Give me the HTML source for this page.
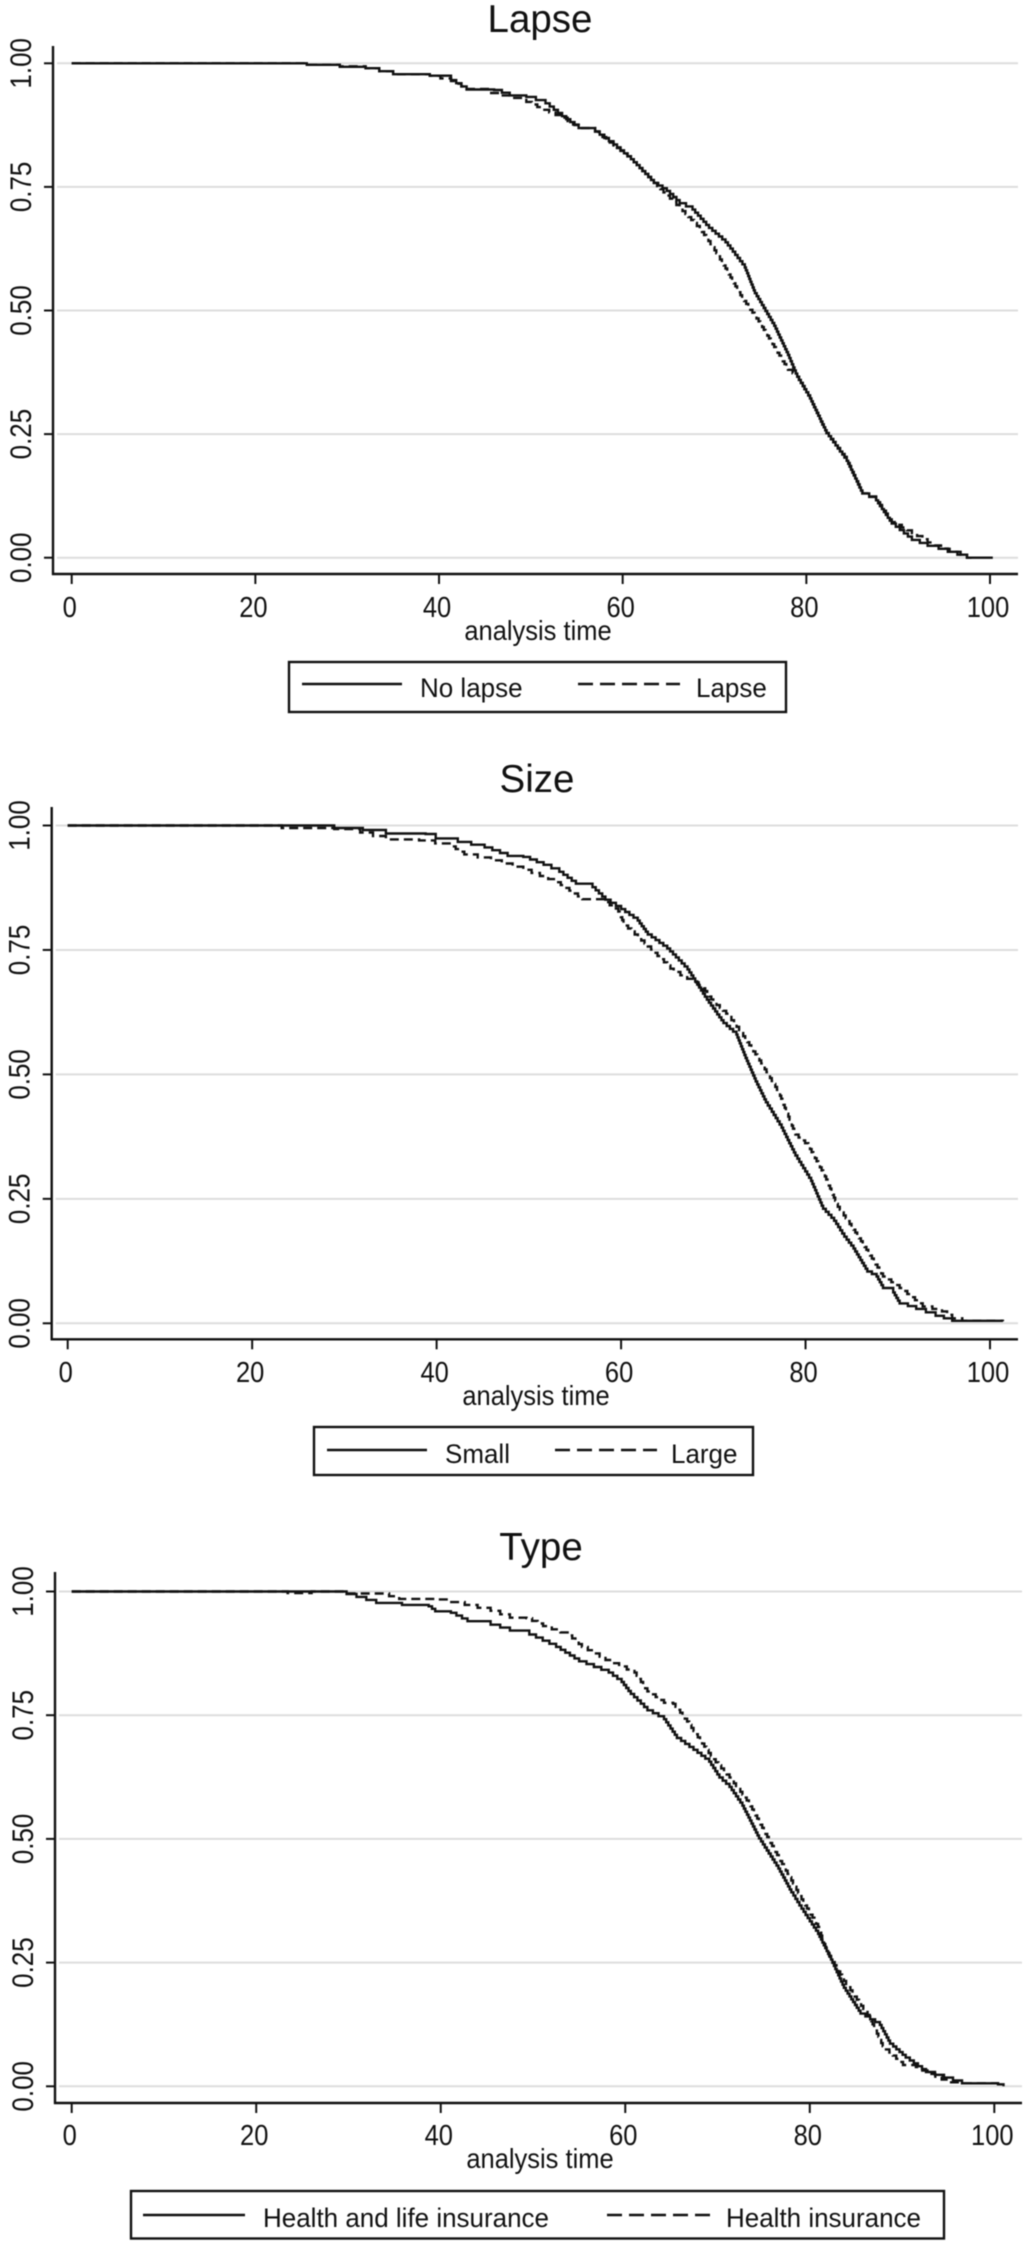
<!DOCTYPE html>
<html lang="en">
<head>
<meta charset="utf-8">
<title>Survival curves by lapse, size and type</title>
<style>
html,body{margin:0;padding:0;background:#fff;}
body{width:1026px;height:2244px;overflow:hidden;}
svg{display:block;filter:blur(0.45px);}
text{font-family:"Liberation Sans",Arial,sans-serif;fill:#111;}
</style>
</head>
<body>
<svg id="chart" xmlns="http://www.w3.org/2000/svg" width="1026" height="2244" viewBox="0 0 1026 2244"></svg>
<script>
const xTickValues = [0, 20, 40, 60, 80, 100];
const yTickValues = [0, 0.25, 0.5, 0.75, 1];
const yTickLabels = ["0.00", "0.25", "0.50", "0.75", "1.00"];
const xAxisLabel = "analysis time";

const lapseTitle = "Lapse";
const lapseNames = ["No lapse", "Lapse"];
const noLapseTimes = [0,25.3,25.6,29.2,32,35,39,41.3,43,46,47.7,49.5,51.6,53.4,55.2,57,59,60.9,63.4,64.8,66.2,67.6,69.4,71.2,73.3,74.4,76.5,78,79,80.4,82.2,84.4,86.1,87.6,89.3,91.5,93.2,96.8,97.5,100.3];
const noLapseValues = [1,1,0.997,0.993,0.99,0.978,0.975,0.966,0.947,0.946,0.935,0.932,0.919,0.893,0.869,0.862,0.836,0.806,0.758,0.742,0.717,0.704,0.667,0.638,0.587,0.535,0.469,0.41,0.366,0.322,0.252,0.196,0.13,0.116,0.069,0.036,0.024,0.006,0,0];
const lapseTimes = [0,25.3,25.6,29.2,32,35,39,41.3,43,45.5,47.7,49.5,51.3,53.4,55.2,57,59,60.9,63.4,66.2,68.4,69.8,71.2,73,74.8,76.5,78,79,80.4,82.2,84.4,86.1,87.6,89.3,91.5,93.2,95.4,97.5,98];
const lapseValues = [1,1,0.997,0.994,0.99,0.978,0.975,0.964,0.948,0.94,0.93,0.922,0.906,0.89,0.869,0.862,0.834,0.806,0.758,0.707,0.665,0.628,0.585,0.525,0.478,0.426,0.38,0.366,0.322,0.252,0.198,0.13,0.118,0.072,0.05,0.031,0.012,0,0];

const sizeTitle = "Size";
const sizeNames = ["Small", "Large"];
const smallTimes = [0,25.3,28.9,32,34.5,38.8,39.9,42.3,45.2,47.7,49.4,51.6,53.3,55.1,56.9,58.3,60,61.8,62.9,65,67.2,69.3,71.1,72.5,73.5,74.6,75.7,77.4,78.9,80.6,81.9,83.1,84.2,85.2,86.7,87.7,88.4,89.5,90.2,92,94.1,95.9,101.4];
const smallValues = [1,1,0.995,0.991,0.984,0.983,0.974,0.967,0.956,0.939,0.937,0.921,0.907,0.883,0.876,0.851,0.832,0.809,0.781,0.753,0.711,0.65,0.603,0.58,0.533,0.486,0.444,0.393,0.337,0.286,0.23,0.206,0.174,0.15,0.104,0.094,0.071,0.062,0.04,0.029,0.015,0.005,0.005];
const largeTimes = [0,22.5,23.2,28.9,31.7,34.5,38.1,41.6,43,45.9,49.4,53,55.8,58.3,59.7,60.4,62.9,65.7,67.9,68.9,70,71.4,72.8,75,77.1,78.9,80.3,82.1,83.5,85.2,87,88.4,90.2,92.7,94.8,95.9,97,101.4];
const largeValues = [1,1,0.995,0.993,0.986,0.972,0.97,0.958,0.942,0.93,0.911,0.886,0.852,0.846,0.827,0.799,0.757,0.706,0.685,0.673,0.645,0.622,0.589,0.528,0.463,0.379,0.356,0.295,0.234,0.188,0.136,0.094,0.071,0.034,0.024,0.01,0.005,0.004];

const typeTitle = "Type";
const typeNames = ["Health and life insurance", "Health insurance"];
const healthLifeTimes = [0,23.4,29.8,33,35.8,38.7,39.4,41.1,42.9,45.4,47.5,49.6,52.5,55,58.2,59.6,60.6,62.4,64.2,65.6,67.4,69.1,70.2,71.3,72.7,74.5,76.6,78,79.1,80.9,82.3,83.7,85.5,87.6,88.7,90.4,92.6,96.5,100.4,101];
const healthLifeValues = [1,1,0.995,0.977,0.973,0.97,0.96,0.957,0.94,0.933,0.921,0.913,0.888,0.859,0.836,0.817,0.793,0.76,0.742,0.704,0.68,0.656,0.624,0.605,0.567,0.501,0.44,0.392,0.359,0.308,0.256,0.199,0.147,0.124,0.086,0.058,0.029,0.006,0.004,0];
const healthTimes = [0,23.4,26,29.8,33.3,35.5,39.4,42.6,45.4,47.5,49.3,51.1,53.9,55.3,58.5,61,62.4,64.2,65.2,66.7,68.1,69.5,71.3,73.4,75.2,77,78,79.1,80.9,81.9,83.7,85.1,86.5,87.9,90.1,91.5,92.9,95,96.5,100.4];
const healthValues = [1,0.997,1,0.996,0.996,0.985,0.984,0.973,0.961,0.947,0.946,0.93,0.911,0.888,0.855,0.836,0.798,0.775,0.773,0.737,0.699,0.661,0.624,0.572,0.51,0.449,0.416,0.378,0.322,0.27,0.213,0.175,0.138,0.081,0.043,0.039,0.025,0.008,0.006,0.004];

const panels = [
  { key:"lapse", title:lapseTitle, names:lapseNames,
    solidT:noLapseTimes, solidV:noLapseValues, dashT:lapseTimes, dashV:lapseValues,
    x0:71.7, x100:990, y1:63.3, y0:557.7, axisX:53, axisY:574, axisTop:46, right:1018,
    titleX:540, titleY:32, tickY:617, xTitleX:538, xTitleY:640,
    box:[289,662,497,50], sample1:[302,402], text1:420, sample2:[578,680], text2:696, legendMid:684, legendBase:697 },
  { key:"size", title:sizeTitle, names:sizeNames,
    solidT:smallTimes, solidV:smallValues, dashT:largeTimes, dashV:largeValues,
    x0:67.7, x100:990, y1:825.5, y0:1323.3, axisX:51.7, axisY:1339.3, axisTop:807, right:1018,
    titleX:537, titleY:792, tickY:1382, xTitleX:536, xTitleY:1405,
    box:[314,1427,439,48], sample1:[327,427], text1:445, sample2:[555,657], text2:671, legendMid:1450, legendBase:1463 },
  { key:"type", title:typeTitle, names:typeNames,
    solidT:healthLifeTimes, solidV:healthLifeValues, dashT:healthTimes, dashV:healthValues,
    x0:71.7, x100:994.3, y1:1591.5, y0:2086.3, axisX:55, axisY:2103, axisTop:1572, right:1022,
    titleX:541, titleY:1560, tickY:2145, xTitleX:540, xTitleY:2168,
    box:[131,2191,813,47.5], sample1:[143,245], text1:263, sample2:[607,710], text2:726, legendMid:2215, legendBase:2227 }
];

const svgNS = "http://www.w3.org/2000/svg";
const root = document.getElementById("chart");

function make(parent, tag, props, text) {
  const el = document.createElementNS(svgNS, tag);
  for (const k in props) el.setAttribute(k, props[k]);
  if (text !== undefined) el.textContent = text;
  parent.appendChild(el);
  return el;
}

// Survival curves drawn as small stairs between the data points (Kaplan-Meier look).
function stairPath(times, values, sx, sy) {
  let d = "M" + sx(times[0]).toFixed(1) + " " + sy(values[0]).toFixed(1);
  for (let i = 1; i < times.length; i++) {
    const xa = sx(times[i - 1]), ya = sy(values[i - 1]);
    const xb = sx(times[i]), yb = sy(values[i]);
    const n = Math.max(1, Math.round(Math.abs(yb - ya) / 3));
    for (let k = 1; k <= n; k++) {
      const xk = xa + (xb - xa) * k / n;
      const yk = ya + (yb - ya) * k / n;
      d += " H" + xk.toFixed(1) + " V" + yk.toFixed(1);
    }
  }
  return d;
}

panels.forEach(function (p) {
  const sx = function (t) { return p.x0 + (p.x100 - p.x0) * t / 100; };
  const sy = function (v) { return p.y0 + (p.y1 - p.y0) * v; };

  const g = make(root, "g", {});
  
  

  const title = make(g, "text", { x:p.titleX, y:p.titleY, "text-anchor":"middle", "font-size":38.5 }, p.title);
  
  

  yTickValues.forEach(function (v, i) {
    const gl = make(g, "line", { x1:p.axisX + 4, x2:p.right, y1:sy(v), y2:sy(v), stroke:"#dddddd", "stroke-width":2 });
    
    
    const tk = make(g, "line", { x1:p.axisX - 9, x2:p.axisX, y1:sy(v), y2:sy(v), stroke:"#111", "stroke-width":2 });
    
    
    const lb = make(g, "text", { transform:"translate(" + (p.axisX - 22) + " " + sy(v) + ") rotate(-90) scale(1 1.15)", "text-anchor":"middle", "font-size":26 }, yTickLabels[i]);
    
    
  });

  const yAxis = make(g, "line", { x1:p.axisX, x2:p.axisX, y1:p.axisTop, y2:p.axisY + 1, stroke:"#111", "stroke-width":2.4 });
  
  
  const xAxis = make(g, "line", { x1:p.axisX - 1, x2:p.right, y1:p.axisY, y2:p.axisY, stroke:"#111", "stroke-width":2.4 });
  
  

  xTickValues.forEach(function (v) {
    const tk = make(g, "line", { x1:sx(v), x2:sx(v), y1:p.axisY, y2:p.axisY + 10, stroke:"#111", "stroke-width":2 });
    
    
    const lb = make(g, "text", { transform:"translate(" + (sx(v) - 2) + " " + p.tickY + ") scale(1 1.12)", "text-anchor":"middle", "font-size":25.5 }, String(v));
    
    
  });

  const xt = make(g, "text", { transform:"translate(" + p.xTitleX + " " + p.xTitleY + ") scale(1 1.08)", "text-anchor":"middle", "font-size":25.5 }, xAxisLabel);
  
  

  const dashLine = make(g, "path", { d:stairPath(p.dashT, p.dashV, sx, sy), fill:"none", stroke:"#111", "stroke-width":2.4, "stroke-dasharray":"9 5" });
  
  
  const solidLine = make(g, "path", { d:stairPath(p.solidT, p.solidV, sx, sy), fill:"none", stroke:"#111", "stroke-width":2.4 });
  
  

  const lg = make(g, "g", {});
  
  
  const box = make(lg, "rect", { x:p.box[0], y:p.box[1], width:p.box[2], height:p.box[3], fill:"#fff", stroke:"#111", "stroke-width":2.4 });
  
  
  const s1 = make(lg, "line", { x1:p.sample1[0], x2:p.sample1[1], y1:p.legendMid, y2:p.legendMid, stroke:"#111", "stroke-width":2.4 });
  
  
  const t1 = make(lg, "text", { transform:"translate(" + p.text1 + " " + p.legendBase + ") scale(1 1.05)", "font-size":26 }, p.names[0]);
  
  
  const s2 = make(lg, "line", { x1:p.sample2[0], x2:p.sample2[1], y1:p.legendMid, y2:p.legendMid, stroke:"#111", "stroke-width":2.4, "stroke-dasharray":"15 7" });
  
  
  const t2 = make(lg, "text", { transform:"translate(" + p.text2 + " " + p.legendBase + ") scale(1 1.05)", "font-size":26 }, p.names[1]);
  
  
});
</script>
</body>
</html>
